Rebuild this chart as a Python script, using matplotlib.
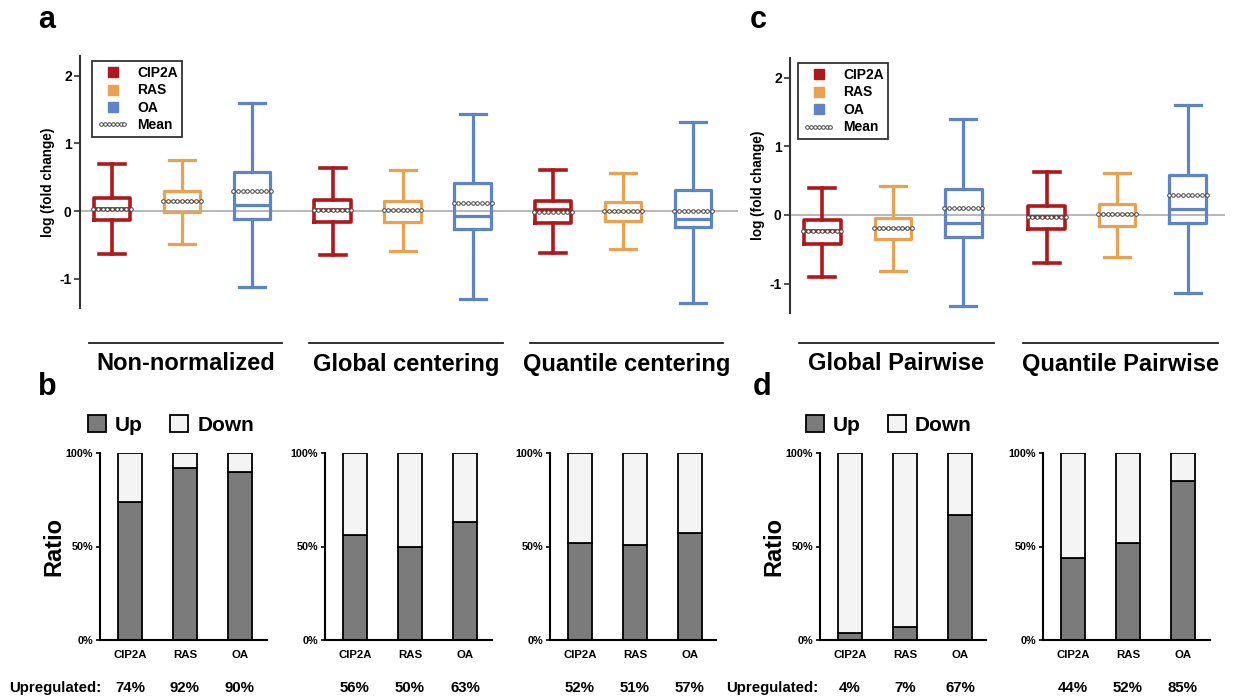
import matplotlib
matplotlib.use('Agg')
import matplotlib.pyplot as plt
import matplotlib.transforms as mtransforms
from matplotlib.lines import Line2D
from matplotlib.patches import Patch
from matplotlib.legend_handler import HandlerLine2D
import numpy as np

plt.rcParams['font.family'] = ['Liberation Sans', 'DejaVu Sans']
plt.rcParams['font.weight'] = 'bold'
plt.rcParams['axes.labelweight'] = 'bold'

# ---------------- data ----------------
samples = ['CIP2A', 'RAS', 'OA']
sample_colors = ['#B0181C', '#E9A252', '#5E84C6']

a_methods = ['Non-normalized', 'Global centering', 'Quantile centering']
a_whislo = [[-0.64, -0.48, -1.12], [-0.65, -0.595, -1.29], [-0.625, -0.565, -1.36]]
a_q1 = [[-0.13, -0.02, -0.11], [-0.16, -0.16, -0.27], [-0.17, -0.14, -0.23]]
a_med = [[0.03, 0.15, 0.093], [0.01, 0.01, -0.075], [0.01, -0.005, -0.12]]
a_q3 = [[0.20, 0.30, 0.58], [0.16, 0.15, 0.41], [0.15, 0.14, 0.305]]
a_whishi = [[0.70, 0.75, 1.60], [0.64, 0.60, 1.44], [0.60, 0.57, 1.31]]
a_mean = [[0.035, 0.15, 0.295], [0.01, 0.015, 0.12], [-0.02, -0.005, -0.005]]

c_methods = ['Global Pairwise', 'Quantile Pairwise']
c_whislo = [[-0.90, -0.81, -1.33], [-0.70, -0.61, -1.14]]
c_q1 = [[-0.42, -0.35, -0.32], [-0.21, -0.16, -0.12]]
c_med = [[-0.24, -0.19, -0.11], [-0.025, 0.015, 0.08]]
c_q3 = [[-0.08, -0.05, 0.38], [0.13, 0.16, 0.58]]
c_whishi = [[0.40, 0.42, 1.40], [0.62, 0.61, 1.61]]
c_mean = [[-0.24, -0.19, 0.10], [-0.025, 0.015, 0.29]]

b_up = [[74, 92, 90], [56, 50, 63], [52, 51, 57]]
d_up = [[4, 7, 67], [44, 52, 85]]

y_ticks = [-1, 0, 1, 2]
pct_ticks = [0, 50, 100]
pct_labels = ['0%', '50%', '100%']

# ---------------- layout helpers ----------------
W, H = 1238, 697
fig = plt.figure(figsize=(W / 100, H / 100), dpi=100)


def add_ax(l, t, r, b):
    return fig.add_axes([l / W, 1 - b / H, (r - l) / W, (b - t) / H])


def fy(y):
    return 1 - y / H


UP_C = '#7B7B7B'
DOWN_C = '#F4F4F4'
MEAN_C = '#444444'


def box_panel(ax, whislo, q1, med, q3, whishi, means, gap, xlim, methods, line_y, text_y):
    ax.axhline(0, color='#B8B8B8', lw=1.4, zorder=0)
    centers = []
    for gi in range(len(whislo)):
        for si in range(3):
            pos = gi * (3 + gap) + si
            c = sample_colors[si]
            st = [dict(whislo=whislo[gi][si], q1=q1[gi][si], med=med[gi][si],
                       q3=q3[gi][si], whishi=whishi[gi][si], fliers=[])]
            lw = 2.6 if si == 0 else 2.3
            ax.bxp(st, positions=[pos], widths=0.52, capwidths=0.37,
                   showfliers=False, manage_ticks=False,
                   boxprops=dict(color=c, lw=lw),
                   whiskerprops=dict(color=c, lw=lw),
                   capprops=dict(color=c, lw=lw),
                   medianprops=dict(color=c, lw=lw))
            xs = np.linspace(pos - 0.27, pos + 0.27, 9)
            ax.plot(xs, np.full_like(xs, means[gi][si]), ls=':', color=MEAN_C, lw=0.8,
                    marker='o', ms=2.6, mfc='white', mec=MEAN_C, mew=0.7, zorder=6)
        centers.append(gi * (3 + gap) + 1)
    ax.set_xlim(*xlim)
    ax.set_ylim(-1.43, 2.29)
    for s in ['top', 'right', 'bottom']:
        ax.spines[s].set_visible(False)
    ax.spines['left'].set_linewidth(1.5)
    ax.spines['left'].set_color('#333333')
    ax.set_xticks([])
    ax.set_yticks(y_ticks)
    ax.set_yticklabels([str(t) for t in y_ticks], fontsize=10, fontweight='bold')
    ax.tick_params(axis='y', length=4, width=1.2, color='#333333', pad=2)
    ax.set_ylabel('log (fold change)', fontsize=9.8, fontweight='bold', labelpad=3)
    # legend
    handles = [Line2D([], [], marker='s', ls='', color=c, ms=7, label=s)
               for s, c in zip(samples, sample_colors)]
    mean_h = Line2D([], [], ls=':', color=MEAN_C, lw=0.8, marker='o', ms=2.6,
                    mfc='white', mec=MEAN_C, mew=0.7, label='Mean')
    handles.append(mean_h)
    leg = ax.legend(handles=handles, loc='upper left', bbox_to_anchor=(0.018, 0.98),
                    borderaxespad=0, frameon=True, fancybox=False, edgecolor='black',
                    fontsize=10, handlelength=2.3, handletextpad=0.6, labelspacing=0.25,
                    borderpad=0.35, handler_map={mean_h: HandlerLine2D(numpoints=7)})
    leg.get_frame().set_linewidth(1.3)
    # group labels with lines
    tr = mtransforms.blended_transform_factory(ax.transData, fig.transFigure)
    for cx, name in zip(centers, methods):
        ax.add_line(Line2D([cx - 1.33, cx + 1.43], [fy(line_y), fy(line_y)], transform=tr,
                           color='#222222', lw=1.3, clip_on=False))
        ax.text(cx + 0.05, fy(text_y), name, transform=tr, ha='center', va='center',
                fontsize=17, fontweight='bold')


ax_a = add_ax(80, 56, 738, 308)
box_panel(ax_a, a_whislo, a_q1, a_med, a_q3, a_whishi, a_mean, 0.15, (-0.457, 8.94),
          a_methods, 343, 364)

ax_c = add_ax(790, 58, 1225, 313)
box_panel(ax_c, c_whislo, c_q1, c_med, c_q3, c_whishi, c_mean, 0.18, (-0.46, 5.71),
          c_methods, 343, 364)


def bar_panel(l, r, ups, ratio_label, upreg_label):
    ax = add_ax(l, 453, r, 640)
    x = np.arange(len(samples))
    ups = np.array(ups)
    ax.bar(x, ups, width=0.42, color=UP_C, edgecolor='black', lw=1.3, zorder=2)
    ax.bar(x, 100 - ups, bottom=ups, width=0.42, color=DOWN_C, edgecolor='black',
           lw=1.3, zorder=2)
    ax.set_xlim(-0.545, (r - l - 30) / 55)
    ax.set_ylim(0, 100)
    for s in ['top', 'right']:
        ax.spines[s].set_visible(False)
    for s in ['left', 'bottom']:
        ax.spines[s].set_linewidth(1.5)
    ax.set_xticks(x)
    ax.set_xticklabels(samples, fontsize=8.2, fontweight='bold')
    ax.tick_params(axis='x', length=0, pad=7)
    ax.set_yticks(pct_ticks)
    ax.set_yticklabels(pct_labels, fontsize=7.8, fontweight='bold')
    ax.tick_params(axis='y', length=3, width=1.2, pad=2)
    if ratio_label:
        ax.set_ylabel('Ratio', fontsize=17, fontweight='bold', labelpad=0)
    for xi, v in zip(x, ups):
        ax.annotate(f'{v}%', xy=(xi, fy(688)), xycoords=('data', 'figure fraction'),
                    ha='center', va='center', fontsize=10.8, fontweight='bold',
                    annotation_clip=False)
    if upreg_label is not None:
        fig.text(upreg_label / W, fy(688), 'Upregulated:', ha='right', va='center',
                 fontsize=10.8, fontweight='bold')
    return ax


bar_panel(100, 267, b_up[0], True, 101)
bar_panel(325, 492, b_up[1], False, None)
bar_panel(550, 716, b_up[2], False, None)
bar_panel(820, 986, d_up[0], True, 818)
bar_panel(1043, 1210, d_up[1], False, None)

# Up / Down legends
ud_handles = [Patch(facecolor=UP_C, edgecolor='black', lw=1.3, label='Up'),
              Patch(facecolor=DOWN_C, edgecolor='black', lw=1.3, label='Down')]
for xl in (88, 806):
    fig.legend(handles=ud_handles, loc='center left', bbox_to_anchor=(xl / W, fy(425)),
               borderaxespad=0, ncol=2, frameon=False, handlelength=0.85,
               handleheight=0.85, handletextpad=0.45, columnspacing=1.3, borderpad=0,
               prop=dict(size=15, weight='bold'))

# panel letters
for lbl, xp, yp in [('a', 47, 20), ('b', 47, 387), ('c', 758, 20), ('d', 762, 387)]:
    fig.text(xp / W, fy(yp), lbl, ha='center', va='center', fontsize=22, fontweight='bold')

fig.savefig('out.png', dpi=100)
